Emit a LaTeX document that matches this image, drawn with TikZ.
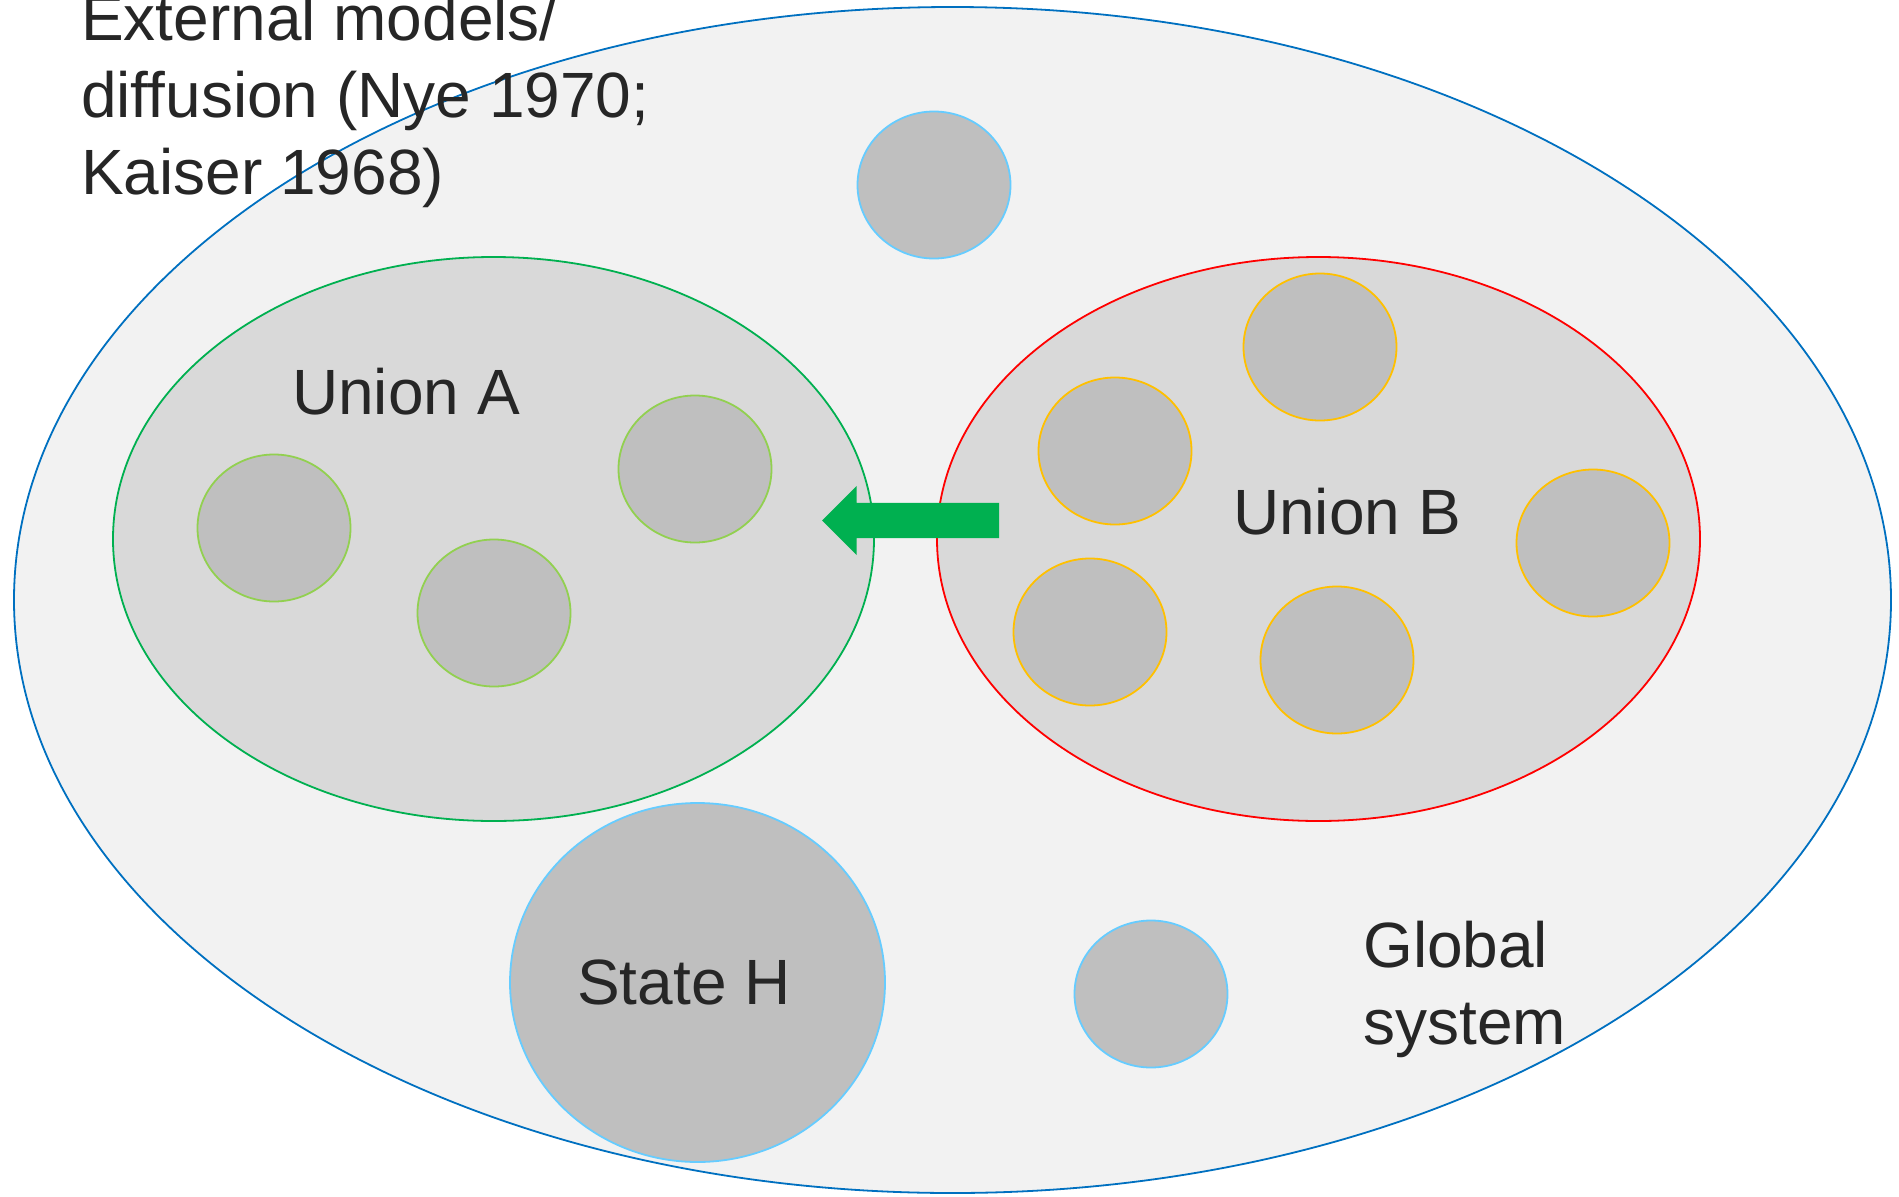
\documentclass[tikz,border=0pt]{standalone}
\usepackage{fontspec}
\setmainfont{Liberation Sans}
\usetikzlibrary{shapes.geometric}
\usetikzlibrary{shapes.arrows}
\definecolor{mblue}{HTML}{0070C0}
\definecolor{mgreen}{HTML}{00B050}
\definecolor{lgreen}{HTML}{92D050}
\definecolor{mgold}{HTML}{FFC000}
\definecolor{lblue}{HTML}{66CCFF}
\definecolor{outerfill}{HTML}{F2F2F2}
\definecolor{unionfill}{HTML}{D9D9D9}
\definecolor{statefill}{HTML}{BFBFBF}
\definecolor{textgrey}{HTML}{262626}

\begin{document}
\begin{tikzpicture}[x=1pt, y=-1pt,
    area/.style={ellipse, inner sep=0pt, line width=1.8pt},
    blob/.style={area, fill=statefill, minimum width=153pt, minimum height=147pt},
    lbl/.style={inner sep=0pt, text=textgrey, font=\fontsize{64}{77}\selectfont}]
    \useasboundingbox (0, 0) rectangle (1899, 1197);

    \node [area, draw=mblue, fill=outerfill, minimum width=1877pt, minimum height=1186pt] (global) at (952.5, 600) {};
    \node [area, draw=mgreen, fill=unionfill, minimum width=761pt, minimum height=564pt] (unionA) at (493.5, 539) {};
    \node [area, draw=red, fill=unionfill, minimum width=763pt, minimum height=564pt] (unionB) at (1318.5, 539) {};

    \foreach \name/\px/\py in {a1/274/528, a2/494/613, a3/695/469}
        \node [blob, draw=lgreen] (\name) at (\px, \py) {};
    \foreach \name/\px/\py in {b1/1320/347, b2/1115/451, b3/1593/543, b4/1090/632, b5/1337/660}
        \node [blob, draw=mgold] (\name) at (\px, \py) {};
    \node [blob, draw=lblue] (top) at (934, 185) {};
    \node [blob, draw=lblue] (bottom) at (1151, 994) {};
    \node [area, draw=lblue, fill=statefill, minimum width=375pt, minimum height=359pt] (stateH) at (697.5, 982.5) {};

    % pull from union B towards union A
    \node [single arrow, shape border rotate=180, fill=mgreen, inner sep=17.5pt, outer sep=0pt,
        single arrow head extend=17pt, minimum height=177pt, anchor=tip] (pull) at (822, 520.5) {};

    \node [lbl, anchor=base] (labelA) at (406, 414) {Union A};
    \node [lbl, anchor=base] (labelB) at (1347, 534) {Union B};
    \node [lbl, anchor=base] (labelH) at (684, 1004) {State H};
    \node [lbl, anchor=base west, align=left] (labelG) at (1363, 1044) {Global\\system};
    \node [lbl, anchor=base west, align=left] (labelExt) at (81, 194) {External models/\\diffusion (Nye 1970;\\Kaiser 1968)};
\end{tikzpicture}
\end{document}
